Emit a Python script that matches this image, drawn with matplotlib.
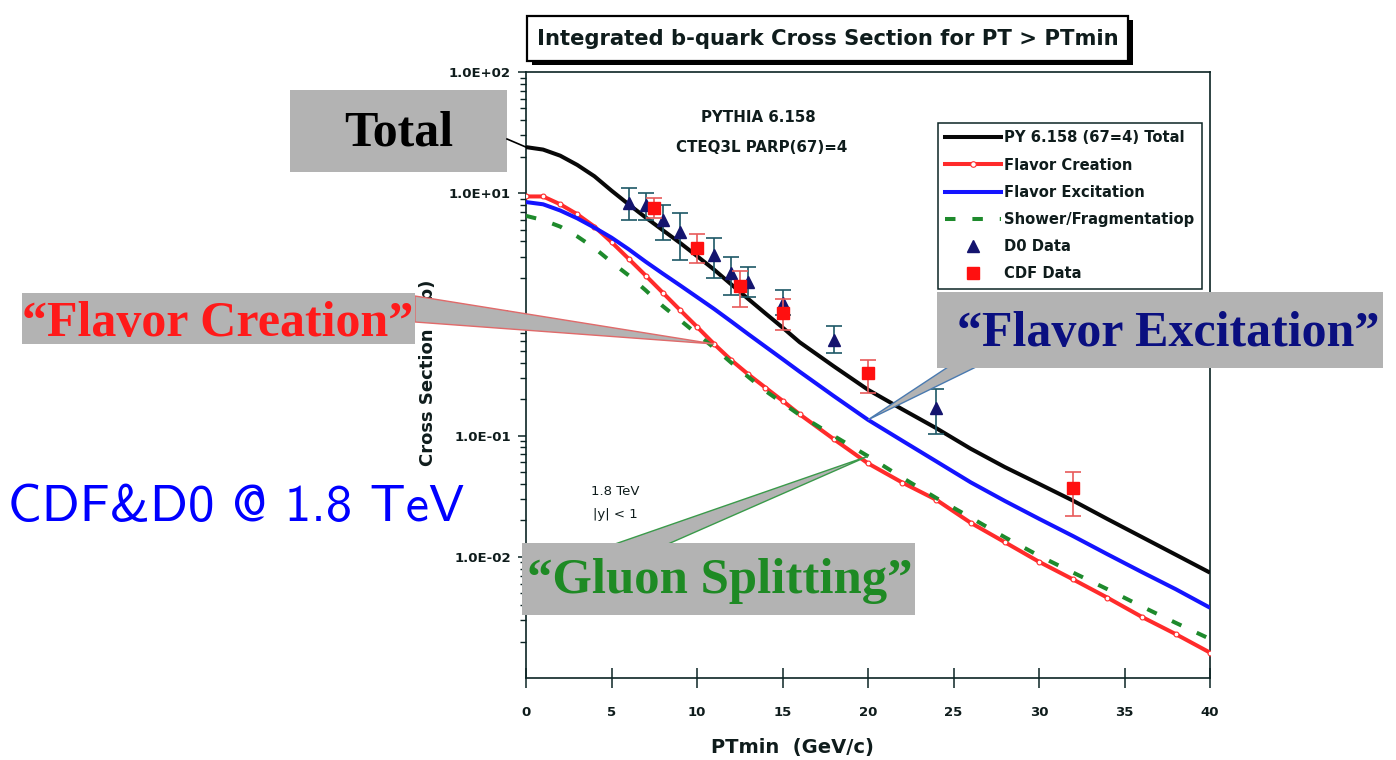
import os
import numpy as np
import matplotlib
matplotlib.use("Agg")
import matplotlib.pyplot as plt
from matplotlib.patches import Rectangle, Polygon
from matplotlib.lines import Line2D
from matplotlib.ticker import FixedLocator, FixedFormatter, NullFormatter
from matplotlib.font_manager import FontProperties

# PYTHIA 6.158 (CTEQ3L, PARP(67)=4): integrated b-quark cross section (ub) for PT > PTmin
pt_grid = [0, 1, 2, 3, 4, 5, 6, 7, 8, 9, 10, 11, 12, 13, 14, 15, 16,
           18, 20, 22, 24, 26, 28, 30, 32, 34, 36, 38, 40]
total = [24.0, 22.9, 20.4, 17.1, 13.8, 10.5, 8.1, 6.3, 4.95, 3.9, 3.03, 2.34, 1.77,
         1.34, 1.02, 0.78, 0.59, 0.373, 0.239, 0.165, 0.115, 0.078, 0.055, 0.040,
         0.029, 0.0205, 0.0146, 0.0104, 0.0074]
flavor_creation = [9.4, 9.4, 8.1, 6.7, 5.3, 3.95, 2.88, 2.09, 1.51, 1.09, 0.79, 0.57,
                   0.42, 0.32, 0.249, 0.194, 0.15, 0.0935, 0.059, 0.041, 0.0295, 0.0191,
                   0.0132, 0.0091, 0.0065, 0.0046, 0.0032, 0.0023, 0.00162]
flavor_excitation = [8.45, 8.1, 7.2, 6.2, 5.2, 4.3, 3.45, 2.72, 2.17, 1.74, 1.39, 1.11,
                     0.875, 0.687, 0.542, 0.428, 0.337, 0.212, 0.135, 0.0908, 0.0612,
                     0.0412, 0.0289, 0.0206, 0.0148, 0.0105, 0.0075, 0.0054, 0.0038]
shower_frag = [6.5, 6.0, 5.3, 4.4, 3.53, 2.7, 2.1, 1.58, 1.17, 0.90, 0.69, 0.53, 0.40,
               0.305, 0.234, 0.186, 0.148, 0.0995, 0.0676, 0.045, 0.0305, 0.0211,
               0.0145, 0.0102, 0.0074, 0.0054, 0.0039, 0.00285, 0.0021]

# D0 and CDF measurements (value, lower and upper end of error bar)
d0_pt = [6, 7, 8, 9, 11, 12, 13, 15, 18, 24]
d0_val = [8.3, 8.0, 6.0, 4.8, 3.1, 2.2, 1.85, 1.24, 0.61, 0.169]
d0_lo = [6.0, 6.0, 4.1, 2.8, 2.0, 1.45, 1.39, 0.99, 0.48, 0.103]
d0_hi = [11.0, 10.0, 8.0, 6.9, 4.3, 3.0, 2.46, 1.58, 0.80, 0.243]
cdf_pt = [7.5, 10, 12.5, 15, 20, 32]
cdf_val = [7.55, 3.5, 1.71, 1.03, 0.33, 0.037]
cdf_lo = [6.2, 2.65, 1.15, 0.74, 0.224, 0.0217]
cdf_hi = [9.1, 4.6, 2.3, 1.35, 0.42, 0.050]

y_ticks = [1e-2, 1e-1, 1e0, 1e1, 1e2]
y_tick_labels = ["1.0E-02", "1.0E-01", "1.0E+00", "1.0E+01", "1.0E+02"]
x_ticks = [0, 5, 10, 15, 20, 25, 30, 35, 40]

legend_labels = ["PY 6.158 (67=4) Total", "Flavor Creation", "Flavor Excitation",
                 "Shower/Fragmentatiop", "D0 Data", "CDF Data"]

BLACK = "#080808"
RED = "#ff2b2b"
BLUE = "#1414ff"
GREEN = "#1e8a2c"
NAVY = "#14146e"
CDF_RED = "#ff1010"
GRAY = "#b3b3b3"
AXC = "#0c2424"
TXT = "#0f1c1c"

SANS = "DejaVu Sans"
SERIF = "Liberation Serif"

W, H = 1396, 760
fig = plt.figure(figsize=(W / 100, H / 100), dpi=100)
fig.patch.set_facecolor("white")


def fx(x):
    return x / W


def fy(y):
    return 1 - y / H


ax = fig.add_axes([fx(526), fy(678), (1210 - 526) / W, (678 - 72) / H])
ax.set_yscale("log")
ax.set_xlim(0, 40)
ax.set_ylim(1e-3, 1e2)

lw = 2.9
ax.plot(pt_grid, total, color=BLACK, lw=lw, zorder=5, solid_capstyle="butt",
        solid_joinstyle="round")
ax.plot(pt_grid, flavor_excitation, color=BLUE, lw=lw, zorder=4, solid_capstyle="butt",
        solid_joinstyle="round")
ax.plot(pt_grid, flavor_creation, color=RED, lw=lw, zorder=3, marker="o", ms=3.5,
        mfc="white", mec=RED, mew=0.8, solid_capstyle="butt", solid_joinstyle="round")
ax.plot(pt_grid, shower_frag, color=GREEN, lw=lw, zorder=3.5, dashes=(2.6, 4.2))

d0_err = [np.array(d0_val) - np.array(d0_lo), np.array(d0_hi) - np.array(d0_val)]
ax.errorbar(d0_pt, d0_val, yerr=d0_err, fmt="^", color=NAVY, ms=9, ecolor="#1d5866",
            elinewidth=1.2, capsize=6, capthick=1.2, zorder=6)
cdf_err = [np.array(cdf_val) - np.array(cdf_lo), np.array(cdf_hi) - np.array(cdf_val)]
ax.errorbar(cdf_pt, cdf_val, yerr=cdf_err, fmt="s", color=CDF_RED, ms=8.5, ecolor="#e85a5a",
            elinewidth=1.2, capsize=6, capthick=1.2, zorder=7)

# axes styling
for sp in ax.spines.values():
    sp.set_color(AXC)
    sp.set_linewidth(1.2)
ax.xaxis.set_major_locator(FixedLocator(x_ticks))
ax.set_xticklabels([str(v) for v in x_ticks])
ax.yaxis.set_major_locator(FixedLocator(y_ticks))
ax.yaxis.set_major_formatter(FixedFormatter(y_tick_labels))
minor = [m * 10.0 ** e for e in range(-3, 2) for m in range(2, 10)]
ax.yaxis.set_minor_locator(FixedLocator(minor))
ax.yaxis.set_minor_formatter(NullFormatter())
ax.tick_params(axis="x", direction="inout", length=14, width=1.1, color=AXC, pad=13,
               labelsize=9.5)
ax.tick_params(axis="y", which="major", direction="out", length=6, width=1.1, color=AXC,
               pad=5, labelsize=9.5)
ax.tick_params(axis="y", which="minor", direction="out", length=4, width=1.0, color=AXC)
for lab in ax.get_xticklabels() + ax.get_yticklabels():
    lab.set_fontfamily(SANS)
    lab.set_fontweight("bold")
    lab.set_color(TXT)

fig.text(fx(792), fy(748), "PTmin  (GeV/c)", family=SANS, weight="bold", fontsize=14,
         ha="center", va="center", color=TXT)
fig.text(fx(428), fy(373), "Cross Section (\u03bcb)", family=SANS, weight="bold",
         fontsize=13, ha="center", va="center", rotation=90, color=TXT)

# model text inside the frame
ax.text(0.34, 0.925, "PYTHIA 6.158", transform=ax.transAxes, family=SANS, weight="bold",
        fontsize=10.8, ha="center", va="center", color=TXT)
ax.text(0.345, 0.876, "CTEQ3L PARP(67)=4", transform=ax.transAxes, family=SANS,
        weight="bold", fontsize=10.8, ha="center", va="center", color=TXT)
ax.text(0.13, 0.308, "1.8 TeV", transform=ax.transAxes, family=SANS, fontsize=9.5,
        ha="center", va="center", color=TXT)
ax.text(0.13, 0.27, "|y| < 1", transform=ax.transAxes, family=SANS, fontsize=9.5,
        ha="center", va="center", color=TXT)

# legend
handles = [
    Line2D([], [], color=BLACK, lw=lw),
    Line2D([], [], color=RED, lw=lw, marker="o", ms=4, mfc="white", mec=RED, mew=0.8),
    Line2D([], [], color=BLUE, lw=lw),
    Line2D([], [], color=GREEN, lw=lw, dashes=(2.6, 4.2)),
    Line2D([], [], ls="none", marker="^", ms=9, color=NAVY),
    Line2D([], [], ls="none", marker="s", ms=8, color=CDF_RED),
]
leg = ax.legend(handles, legend_labels, loc="upper left",
                bbox_to_anchor=(fx(938), fy(123)), bbox_transform=fig.transFigure,
                borderaxespad=0, frameon=True, fancybox=False, framealpha=1,
                handlelength=3.8, handletextpad=0.2, labelspacing=0.83, borderpad=0.5,
                numpoints=1, prop={"family": SANS, "weight": "bold", "size": 10.6})
leg.get_frame().set_edgecolor(AXC)
leg.get_frame().set_linewidth(1.1)
for t in leg.get_texts():
    t.set_color(TXT)

# title box with drop shadow
fig.add_artist(Rectangle((fx(532), fy(65)), (1133 - 532) / W, (65 - 20) / H,
                         transform=fig.transFigure, fc="black", ec="none", zorder=2))
fig.add_artist(Rectangle((fx(527), fy(61)), (1128 - 527) / W, (61 - 16) / H,
                         transform=fig.transFigure, fc="white", ec="black", lw=1.6,
                         zorder=3))
fig.text(fx(828), fy(39), "Integrated b-quark Cross Section for PT > PTmin", family=SANS,
         weight="bold", fontsize=15.2, ha="center", va="center", color=TXT, zorder=4)


def data_to_fig(x, y):
    return fig.transFigure.inverted().transform(ax.transData.transform((x, y)))


def gray_box(x0, y0, x1, y1):
    fig.add_artist(Rectangle((fx(x0), fy(y1)), (x1 - x0) / W, (y1 - y0) / H,
                             transform=fig.transFigure, fc=GRAY, ec="none", zorder=10))


def wedge(p0, p1, apex, edge):
    verts = [(fx(p0[0]), fy(p0[1])), (fx(p1[0]), fy(p1[1])), tuple(apex)]
    fig.add_artist(Polygon(verts, closed=True, transform=fig.transFigure, fc=GRAY,
                           ec=edge, lw=1.0, zorder=9))


fig.canvas.draw()

# "Total" callout
gray_box(290, 90, 507, 172)
tot_pt = data_to_fig(pt_grid[0], total[0])
fig.add_artist(Line2D([fx(507), tot_pt[0]], [fy(139), tot_pt[1]], transform=fig.transFigure,
                      color="black", lw=1.2, zorder=11))
fig.text(fx(399), fy(133), "Total", family=SERIF, weight="bold", fontsize=36,
         ha="center", va="center", color="black", zorder=12)

# "Flavor Creation" callout
wedge((415, 296), (415, 322), data_to_fig(pt_grid[11], flavor_creation[11]), "#e06a6a")
gray_box(22, 293, 415, 344)
fig.text(fx(218), fy(324), "\u201cFlavor Creation\u201d", family=SERIF, weight="bold",
         fontsize=36, ha="center", va="center", color="#ff1a1a", zorder=12)

# "Flavor Excitation" callout
wedge((948, 367), (976, 367), data_to_fig(pt_grid[18], flavor_excitation[18]), "#4a7ab0")
gray_box(937, 292, 1383, 368)
fig.text(fx(1168), fy(334), "\u201cFlavor Excitation\u201d", family=SERIF, weight="bold",
         fontsize=36, ha="center", va="center", color="#0a0f80", zorder=12)

# "Gluon Splitting" callout
wedge((615, 544), (668, 544), data_to_fig(pt_grid[18], shower_frag[18]), "#3a9a4a")
gray_box(522, 543, 915, 615)
fig.text(fx(720), fy(581), "\u201cGluon Splitting\u201d", family=SERIF, weight="bold",
         fontsize=36.5, ha="center", va="center", color="#1e8a24", zorder=12)

# experiment label in Computer Modern Sans
cmss = FontProperties(fname=os.path.join(matplotlib.get_data_path(), "fonts", "ttf",
                                         "cmss10.ttf"), size=38)
fig.text(fx(8), fy(521), "CDF&D0 @ 1.8 TeV", fontproperties=cmss,
         ha="left", va="baseline", color="#0000ff", zorder=12)

fig.savefig("out.png", dpi=100, facecolor="white")
